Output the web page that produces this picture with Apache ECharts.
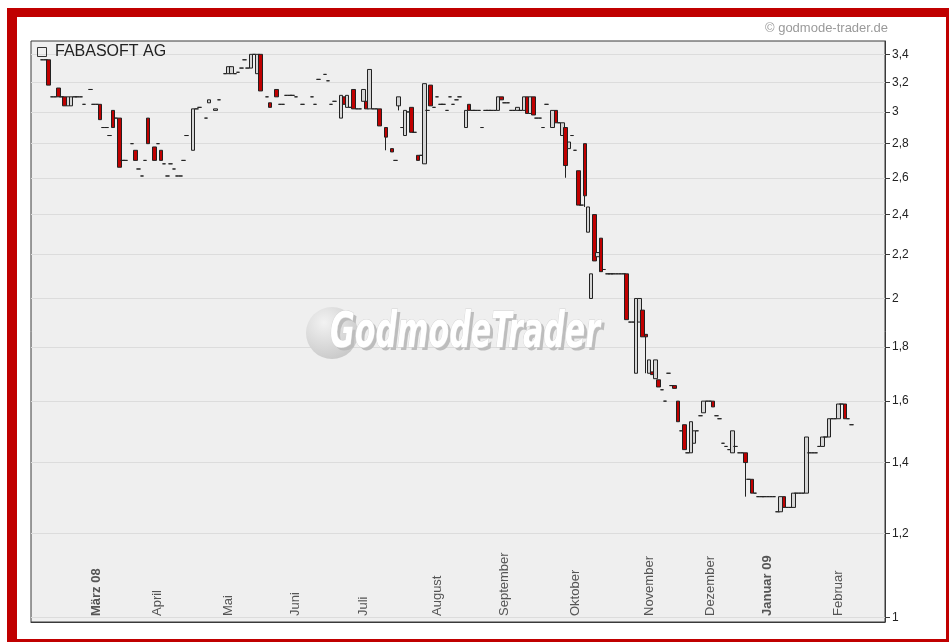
<!DOCTYPE html>
<html>
<head>
<meta charset="utf-8">
<title>FABASOFT AG</title>
<script src="https://cdn.jsdelivr.net/npm/echarts@6/dist/echarts.min.js"></script>
<style>
    html, body { margin: 0; padding: 0; background: #fff; }
    #frame { position: absolute; left: 7px; top: 8px; width: 942px; height: 634px; background: #c00000; }
    #inner { position: absolute; left: 17px; top: 17px; width: 929px; height: 622px; background: #fff; }
    #main { position: absolute; left: 0; top: 0; width: 949px; height: 642px; }
</style>
</head>
<body>
<div id="frame"></div>
<div id="inner"></div>
<div id="main"></div>
<script>
// Tageskurse je Monat: Zahl = Doji (O=C=L=H), [open, close] oder [open, close, low, high], null = kein Kurs
var feb08 = [null, null, null, 3.36, 3.36, [3.36, 3.18], 3.10, 3.10, [3.16, 3.10], 3.10, [3.10, 3.04], [3.04, 3.10], [3.04, 3.10], 3.10, 3.10, 3.10, 3.05, null];
var mar08 = [3.15, 3.05, 3.05, [3.05, 2.95], 2.90, 2.90, 2.85, [3.01, 2.90], 2.96, [2.96, 2.66], 2.70, 2.70, null, 2.80, [2.76, 2.70], 2.65, 2.61, 2.70, [2.96, 2.80]];
var apr08 = [null, [2.78, 2.70], 2.80, [2.76, 2.70], 2.68, 2.61, 2.68, 2.65, 2.61, 2.61, 2.70, 2.85, null, [2.76, 3.02], 3.02, 3.03, null, 2.96, [3.06, 3.08], null, [3.01, 3.02], 3.08];
var may08 = [null, 3.26, [3.26, 3.31], [3.26, 3.31], 3.26, 3.27, 3.30, 3.36, 3.30, [3.30, 3.40], 3.40, [3.26, 3.40], [3.40, 3.14], null, 3.10, [3.06, 3.03], null, [3.15, 3.10], 3.05, 3.05, 3.11];
var jun08 = [3.11, 3.11, 3.10, null, 3.05, null, null, 3.10, 3.05, 3.22, null, 3.255, 3.21, 3.05, 3.07, null, [2.96, 3.11], [3.10, 3.05], [3.03, 3.11], 3.03, [3.15, 3.02]];
var jul08 = [3.02, 3.02, [3.07, 3.15], [3.07, 3.02], [3.02, 3.29], 3.02, 3.02, [3.02, 2.91], null, [2.90, 2.84, 2.76, 2.90], null, [2.77, 2.75], 2.70, [3.04, 3.10, 3.01, 3.10], 2.90, [2.85, 3.01], 3.00, [3.03, 2.87], 2.87, [2.73, 2.70], 2.73, [2.68, 3.19], 3.01];
var aug08 = [[3.18, 3.04], 3.03, 3.10, 3.05, 3.05, 3.01, 3.10, 3.05, 3.08, 3.10, null, [2.90, 3.01], [3.05, 3.01], 3.01, 3.01, 3.01, 2.90, 3.01, 3.01, 3.01, 3.01];
var sep08 = [[3.01, 3.10], [3.10, 3.08], 3.06, 3.06, 3.01, 3.01, [3.01, 3.03], 3.01, [3.01, 3.10], [3.10, 2.99], [2.99, 3.10], [3.10, 2.98], 2.96, 2.96, 2.90, 3.05, null, [2.90, 3.01], [3.01, 2.93], 2.93, [2.85, 2.93], [2.90, 2.67, 2.60, 2.90]];
var oct08 = [[2.77, 2.81], 2.85, 2.76, [2.64, 2.45], 2.45, [2.80, 2.50, 2.44, 2.80], [2.31, 2.44], [2.00, 2.11], [2.40, 2.17], [2.19, 2.21], [2.28, 2.12], 2.13, 2.11, 2.11, 2.11, 2.11, 2.11, 2.11, [2.11, 1.91], 1.90, 1.90, [1.70, 2.00], [1.90, 2.00]];
var nov08 = [[1.95, 1.84], [1.85, 1.84, 1.70, 1.85], [1.70, 1.75], [1.705, 1.695], [1.68, 1.75], [1.676, 1.65], 1.64, 1.60, 1.70, 1.655, [1.655, 1.645], [1.60, 1.53], 1.50, [1.52, 1.44], 1.43, [1.43, 1.53], [1.46, 1.50], 1.50, 1.55];
var dec08 = [[1.56, 1.60], 1.60, 1.60, [1.60, 1.58], 1.55, 1.54, 1.46, 1.45, 1.44, [1.43, 1.50], 1.45, 1.43, 1.43, [1.43, 1.40, 1.30, 1.43], 1.35, [1.35, 1.31], 1.31, 1.30];
var jan09 = [1.30, 1.30, 1.30, 1.30, 1.30, 1.258, [1.258, 1.30], [1.30, 1.27], 1.27, 1.27, [1.27, 1.31], 1.31, 1.31, 1.31, [1.31, 1.48], 1.43, 1.43, 1.43, 1.45, [1.45, 1.48], 1.48, [1.48, 1.54]];
var feb09 = [1.54, 1.54, [1.54, 1.59], 1.59, [1.59, 1.54], 1.54, 1.52, null, null, null, null, null, null, null, null, null, null];

// Monatsbeschriftung (jeweils am Anfang des nächsten Monats-Arrays)
var monthLabels = ['März 08', 'April', 'Mai', 'Juni', 'Juli', 'August', 'September', 'Oktober', 'November', 'Dezember', 'Januar 09', 'Februar'];
var boldLabels = ['März 08', 'Januar 09'];

// Kursachse
var priceTicks = [1, 1.2, 1.4, 1.6, 1.8, 2, 2.2, 2.4, 2.6, 2.8, 3, 3.2, 3.4];

(function () {

    var months = [feb08, mar08, apr08, may08, jun08, jul08, aug08, sep08, oct08, nov08, dec08, jan09, feb09];

    // in [open, close, low, high] umwandeln
    function toOHLC(d) {
        if (d === null) return ['-', '-', '-', '-'];
        if (typeof d === 'number') return [d, d, d, d];
        if (d.length === 2) return [d[0], d[1], Math.min(d[0], d[1]), Math.max(d[0], d[1])];
        return [d[0], d[1], d[2], d[3]];
    }

    var candles = [];
    var monthStart = {};
    months.forEach(function (m, k) {
        if (k > 0) monthStart[candles.length] = monthLabels[k - 1];
        m.forEach(function (d) { candles.push(toOHLC(d)); });
    });
    var days = candles.map(function (c, i) { return String(i); });

    // Beschriftung zwei Handelstage rechts vom Monatsstrich
    var LABEL_SHIFT = 2;

    var axisColor = '#3a3a3a';
    var labelFont = 'Liberation Sans, Arial, sans-serif';

    var option = {
        animation: false,
        grid: {
            left: 31, right: 64, top: 41, bottom: 20,
            show: true, backgroundColor: '#efefef',
            borderColor: axisColor, borderWidth: 1
        },
        xAxis: {
            type: 'category',
            data: days,
            boundaryGap: true,
            axisLine: { lineStyle: { color: axisColor } },
            axisTick: {
                inside: true, length: 4,
                interval: function (i) { return monthStart[i] !== undefined; },
                lineStyle: { color: axisColor }
            },
            axisLabel: {
                inside: true, rotate: 90, margin: 6,
                interval: function (i) { return monthStart[i - LABEL_SHIFT] !== undefined; },
                formatter: function (v, i) {
                    var t = monthStart[i - LABEL_SHIFT] || '';
                    return boldLabels.indexOf(t) >= 0 ? '{b|' + t + '}' : t;
                },
                color: '#555', fontSize: 13, fontFamily: labelFont,
                rich: { b: { fontWeight: 'bold', fontSize: 13, color: '#555', fontFamily: labelFont } }
            },
            splitLine: { show: false }
        },
        yAxis: {
            type: 'log',
            position: 'right',
            min: 0.99, max: 3.5,
            axisLine: { show: true, lineStyle: { color: axisColor } },
            axisTick: { show: true, length: 5, customValues: priceTicks, lineStyle: { color: axisColor } },
            axisLabel: {
                customValues: priceTicks, margin: 7,
                formatter: function (v) { return String(Math.round(v * 10) / 10).replace('.', ','); },
                color: '#222', fontSize: 12, fontFamily: labelFont
            },
            splitLine: { show: true, customValues: priceTicks, lineStyle: { color: '#dcdcdc' } }
        },
        series: [{
            type: 'candlestick',
            data: candles,
            barWidth: 4,
            z: 5,
            itemStyle: {
                color: '#d6d6d6', color0: '#c00000',
                borderColor: '#222', borderColor0: '#222', borderColorDoji: '#222',
                borderWidth: 1
            }
        }],
        graphic: [
            // Wasserzeichen
            {
                type: 'circle', z: 1, silent: true,
                shape: { cx: 332, cy: 333, r: 26 },
                style: {
                    fill: new echarts.graphic.RadialGradient(0.35, 0.3, 0.8, [
                        { offset: 0, color: '#f2f2f2' },
                        { offset: 1, color: '#c6c6c6' }
                    ])
                }
            },
            {
                type: 'text', z: 1, silent: true, x: 333, y: 337, scaleX: 0.67,
                style: {
                    text: 'GodmodeTrader', fill: '#bdbdbd',
                    font: 'italic bold 50px "Liberation Sans Narrow", "DejaVu Sans Condensed", sans-serif',
                    verticalAlign: 'middle'
                }
            },
            {
                type: 'text', z: 1, silent: true, x: 330, y: 334, scaleX: 0.67,
                style: {
                    text: 'GodmodeTrader', fill: '#ffffff', stroke: '#d4d4d4', lineWidth: 1,
                    font: 'italic bold 50px "Liberation Sans Narrow", "DejaVu Sans Condensed", sans-serif',
                    verticalAlign: 'middle'
                }
            },
            // Legende
            {
                type: 'rect', z: 10,
                shape: { x: 37.5, y: 47.5, width: 9, height: 9 },
                style: { fill: 'none', stroke: '#333', lineWidth: 1 }
            },
            {
                type: 'text', z: 10, x: 55, y: 52,
                style: { text: 'FABASOFT AG', fill: '#222', font: '16px "Liberation Sans", Arial, sans-serif', verticalAlign: 'middle' }
            },
            // Copyright
            {
                type: 'text', z: 10, x: 888, y: 28,
                style: { text: '© godmode-trader.de', fill: '#9a9a9a', font: '13px "Liberation Sans", Arial, sans-serif', align: 'right', verticalAlign: 'middle' }
            }
        ]
    };

    var myechart = echarts.init(document.getElementById('main'));
    myechart.setOption(option);

    window.addEventListener('resize', function () {
        myechart.resize();
    });
})();
</script>
</body>
</html>
